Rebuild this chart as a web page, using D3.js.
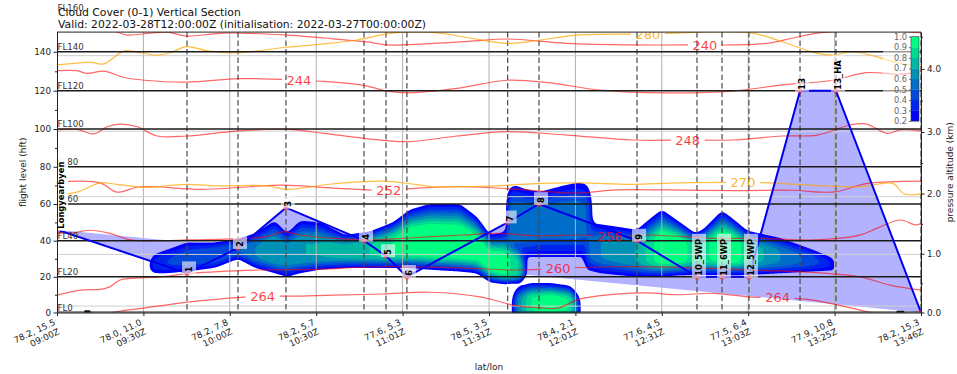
<!DOCTYPE html>
<html><head><meta charset="utf-8">
<script src="https://cdn.jsdelivr.net/npm/d3@7"></script>
<style>body{margin:0;background:#fff;} text{font-family:"DejaVu Sans",sans-serif;}</style>
</head><body><svg id="c" width="957" height="374"></svg>
<script>
// ---------------- DATA ----------------
const titleLines = ["Cloud Cover (0-1) Vertical Section","Valid: 2022-03-28T12:00:00Z (initialisation: 2022-03-27T00:00:00Z)"];
const xTickLatLon = ["78.2, 15.5","78.0, 11.0","78.2, 7.8","78.2, 5.7","77.6, 5.3","78.5, 3.5","78.4, 2.1","77.6, 4.5","77.5, 6.4","77.9, 10.8","78.2, 15.3"];
const xTickTimes = ["09:00Z","09:30Z","10:00Z","10:30Z","11:01Z","11:31Z","12:01Z","12:31Z","13:03Z","13:25Z","13:46Z"];
const flTicks = [0,20,40,60,80,100,120,140];
const flMinorTicks = [10,30,50,70,90,110,130];
const kmTicks = [0,1,2,3,4];
const kmMinorTicks = [0.5,1.5,2.5,3.5,4.5];
const flLevels = [0,20,40,60,80,100,120,140,160];
const flLevelLabels = ["FL0","FL20","FL40","FL60","FL80","FL100","FL120","FL140","FL160"];
const pressureLevels = [1000,900,800,700,600];
const cbLevels = [0.2,0.3,0.4,0.5,0.6,0.7,0.8,0.9,1.0];

const wpNames = ["Longyearbyen","1","2","3","4","5","6","7","8","9","10_5WP","11_6WP","12_5WP","13","13_HA",""];
const wpX  = [0,1.505,2.095,2.65,3.553,3.808,4.05,5.216,5.579,6.713,7.407,7.697,8.009,8.6,9.016,10];
const wpFL = [46,22,36,58,40,31.5,20,50,60,40,20,20,20,120,120,0];

// cloud layers: [along-track x, base FL, core FL, top FL, peak cover]
const cloudMain = [[1.060,25.5,26.5,27.5,0.26],[1.080,23.5,26,29.5,0.3],[1.100,22.5,26,31,0.32],[1.150,22,27,33,0.36],[1.273,22,28,35,0.4],[1.505,23,30,39,0.45],[1.829,25,32,39,0.5],[2.095,30,35,41,0.5],[2.292,25,34,44,0.6],[2.523,22,33,51,0.7],[2.662,20,32,44,0.65],[2.813,22,34,51,0.7],[3.044,24,34,50,0.7],[3.333,25,34,43,0.75],[3.623,25,35,45,0.8],[3.889,25,36,50,0.9],[4.086,25,38,57,1.0],[4.317,24,38,60,1.0],[4.664,23,37,60,1.0],[4.861,22,35,53,0.95],[5.012,17,28,43,0.95],[5.185,16,24,45,0.95],[5.360,17,23,38,0.8],[5.400,19,23,33,0.6],[5.430,21,23,28,0.4]];
const cloudTall = [[5.197,31,50,68,0],[5.215,31,50,68,0.55],[5.300,31,50,70.2,0.6],[5.420,31,50,68,0.6],[5.590,31,52,66.5,0.55],[5.822,31,52,69.5,0.55],[6.030,31,52,71.6,0.55],[6.140,31,50,70.5,0.5],[6.180,35,50,66,0.45],[6.200,40,50,60,0]];
const cloudRight = [[6.088,24,36,50,0],[6.134,24,36,50,0.5],[6.285,22,35,49,0.6],[6.713,20,33,46,0.7],[6.863,20,33,52,0.85],[7.002,20,34,57,1.0],[7.211,21,34,50,1.0],[7.384,21,34,44,0.8],[7.477,21,34,46,0.85],[7.697,21,35,56.5,1.0],[7.847,21,34,51,1.0],[7.986,21,33,45.5,0.8],[8.368,22,31,41.5,0.6],[8.750,23,29,35,0.45],[8.947,23.5,27,31,0.32],[9.020,24,26,28,0.25]];
const cloudLow = [[5.270,-5,3,8,0.3],[5.300,-5,4,12,0.5],[5.324,-5,4,14,0.6],[5.475,-5,4,16.5,0.9],[5.706,-5,4,16.5,1.0],[5.938,-5,4,15,0.9],[6.030,-5,3,10,0.5],[6.060,-5,2,6,0.3]];

// isotherms (red) and higher-value contours (orange): [x, FL]
const iso240 = [[0.5,152],[0.66,150.5],[0.81,148.5],[1.08,149.5],[1.27,150],[1.50,148],[1.93,149.5],[2.66,148.5],[3.09,147],[3.59,145],[3.82,143.5],[4.25,144],[4.83,145.5],[5.21,146.5],[5.90,144.3],[6.67,143.5],[7.50,143.5],[7.82,143.5],[8.22,144.3],[8.52,147],[8.80,149.5],[9.18,150.5],[9.53,151],[10,149.5]];
const iso244 = [[0,130.3],[0.23,130.3],[0.35,128.9],[0.54,130.1],[0.78,126.8],[1.01,125.4],[1.50,124.4],[2.08,126.2],[2.31,126.2],[2.80,125.4],[3.09,124.8],[3.55,122.7],[3.82,119.8],[4.05,118.9],[4.63,121.2],[5.21,125.4],[5.71,124],[6.28,120.3],[7.06,118.9],[7.82,119.8],[8.40,123],[8.98,125.4],[9.37,129.3],[9.76,128.5],[10,130]];
const iso248 = [[0,99.5],[0.23,99.8],[0.43,97.4],[0.58,101.2],[0.73,102.6],[0.93,101.2],[1.16,96.3],[1.50,96.3],[2.08,98.9],[2.66,99.8],[3.09,97.7],[3.55,95.1],[4.05,93.3],[4.63,96.3],[5.21,98.6],[5.90,96.8],[6.67,94.2],[7.30,94.2],[7.82,94.2],[8.40,96.3],[8.80,96.8],[9.18,102.1],[9.37,102.6],[9.61,97.7],[9.76,99.5],[10,99]];
const iso252 = [[0,71.8],[0.5,71.4],[0.69,66.4],[0.96,69.3],[1.66,67.9],[2.23,69.3],[2.62,70.2],[3.2,68.5],[3.59,67.6],[3.84,67.2],[4.17,68.5],[4.70,69.3],[5.30,68.0],[5.67,66.7],[6.05,65.9],[6.43,67.5],[7.06,67.6],[7.86,67.2],[8.5,67.4],[9.0,66.5],[9.37,71],[10,72.3]];
const iso256 = [[0,44],[0.19,44.3],[0.38,45.7],[0.61,44],[0.85,40.4],[1.2,40],[1.5,40.4],[2.2,41.3],[2.43,42.2],[2.62,44.9],[2.81,43.1],[3.2,41.3],[3.59,40.4],[4.12,41.6],[4.70,43.1],[5.09,44],[5.56,42.7],[6.05,43.1],[6.40,42.2],[6.83,43.1],[7.6,41.3],[8.17,41.3],[8.75,40.4],[9.29,43],[9.5,47],[9.76,51.3],[9.94,48.6],[10,49.5]];
const iso260 = [[0,9.8],[0.27,12.6],[0.5,13],[0.61,14.4],[0.73,18.2],[0.85,19.1],[1.2,20],[1.54,21.9],[2.35,23.8],[3.01,24.2],[3.70,25.6],[4.4,25.4],[4.9,24.5],[5.3,23.8],[5.80,24.7],[6.43,25.6],[7.21,25.3],[8.0,23.8],[8.56,22.9],[9.29,20],[9.64,15.4],[10,12.6]];
const iso264 = [[0.55,-2],[0.65,0],[1.0,2.5],[1.54,6],[2.12,8.5],[2.38,9.2],[2.70,9.2],[3.2,9.8],[3.77,10.4],[4.32,11.4],[4.9,8.8],[5.28,4.2],[5.6,2.6],[5.8,2.5],[6.05,7.5],[6.52,10.5],[6.83,11],[7.2,10],[7.6,10.8],[8.0,8.8],[8.34,8.4],[8.75,7],[9.37,0.5],[9.6,-2]];
const iso270 = [[0,64.9],[0.24,66.5],[0.5,71.4],[0.69,70.6],[1.0,69],[1.5,70.6],[1.85,69.8],[2.43,69.8],[2.66,67.9],[3.2,70.9],[3.77,72.3],[4.09,70.9],[4.35,69.3],[4.6,69.3],[5.09,69.8],[5.36,70.6],[6.05,71.4],[6.63,70.6],[7.21,71.4],[7.94,71.6],[8.25,71.4],[8.56,70.6],[9.29,69.3],[9.68,71],[9.8,65.5],[10,65.5]];
const iso280 = [[0,133.3],[0.23,134.2],[0.38,134.7],[0.54,133.8],[0.78,140.5],[0.96,139.5],[1.16,138.3],[1.31,139.5],[1.50,142.6],[1.74,140.5],[2.08,139.5],[2.66,142.3],[3.09,144],[3.47,146],[3.85,149.4],[4.05,150],[4.43,149.5],[4.78,147],[5.21,144.3],[5.59,146],[6.02,148.5],[6.84,149],[8.02,149.7],[8.40,145],[8.80,139.2],[8.98,138.3],[9.21,140],[9.49,137.4],[9.76,134],[10,133.3]];
const redIsotherms = [iso240, iso244, iso248, iso252, iso256, iso260, iso264];
const orangeIsotherms = [iso270, iso280];
// labels: [value, x, FL]
const redLabels = [[240,7.50,143.5],[244,2.80,125.4],[248,7.30,94.2],[252,3.84,67.4],[256,6.40,42.2],[260,5.80,24.7],[264,2.38,9.2],[264,8.34,8.4]];
const orangeLabels = [[280,6.84,148.8],[270,7.94,71.6]];
const terrainX  = [0,0.30,0.32,0.38,0.41,9.70,9.72,9.80,9.83,10];
const terrainFL = [-1,-1,1.2,1.2,-1,-1,1.0,1.0,-1,-1];

// ---------------- LAYOUT / SCALES ----------------
const L = 57, R = 921, T = 32.1, B = 312.5;
const pOfFL = fl => 1013.25 * Math.pow(1 - 2.25577e-5 * fl * 30.48, 5.25588);
const pOfKm = km => 1013.25 * Math.pow(1 - 2.25577e-5 * km * 1000, 5.25588);
const x = d3.scaleLinear().domain([0, 10]).range([L, R]);
const yP = d3.scaleLog().domain([pOfFL(0), pOfFL(150)]).range([B, T]);
const y = fl => yP(pOfFL(fl));
const FONT = '"DejaVu Sans", sans-serif';

const svg = d3.select("#c");
const defs = svg.append("defs");
defs.append("clipPath").attr("id", "pc").append("rect")
  .attr("x", L).attr("y", T).attr("width", R - L).attr("height", B - T);

// mask for inline contour labels
const mask = defs.append("mask").attr("id", "lblmask").attr("maskUnits", "userSpaceOnUse")
  .attr("x", 0).attr("y", 0).attr("width", 957).attr("height", 374);
mask.append("rect").attr("x", 0).attr("y", 0).attr("width", 957).attr("height", 374).attr("fill", "white");
redLabels.concat(orangeLabels).forEach(d => {
  mask.append("rect").attr("x", x(d[1]) - 17).attr("y", y(d[2]) - 6).attr("width", 34).attr("height", 12).attr("fill", "black");
});

const plot = svg.append("g").attr("clip-path", "url(#pc)");

// route fill
const lineXY = d3.line().x(d => x(d[0])).y(d => y(d[1]));
const route = wpX.map((v, i) => [v, wpFL[i]]);
plot.append("path").attr("d", lineXY(route) + "Z").attr("fill", "#0000ff").attr("fill-opacity", 0.3).attr("stroke", "none");

// ---------------- CLOUD FIELD -> filled contours ----------------
const dx = 0.01, fl0 = -6, dfl = 0.5, nx = 1001, ny = 173, K = 1.8;
const layers = [cloudMain, cloudTall, cloudRight, cloudLow];
function interp(rows, xi) {
  if (xi < rows[0][0] || xi > rows[rows.length - 1][0]) return null;
  for (let k = 0; k < rows.length - 1; k++) {
    const a = rows[k], b = rows[k + 1];
    if (xi >= a[0] && xi <= b[0]) {
      const t = (xi - a[0]) / (b[0] - a[0]);
      return a.map((v, j) => v + (b[j] - v) * t);
    }
  }
  return null;
}
let field = new Float64Array(nx * ny);
for (let i = 0; i < nx; i++) {
  const xi = i * dx;
  const profs = layers.map(l => interp(l, xi)).filter(p => p && p[4] > 0.2);
  for (let j = 0; j < ny; j++) {
    const fl = fl0 + j * dfl;
    let v = 0;
    for (const p of profs) {
      const [, base, core, top, peak] = p;
      const d = fl < core ? (core - fl) / Math.max(0.5, core - base) : (fl - core) / Math.max(0.5, top - core);
      const s = Math.max(-1, Math.min(1, (1 - d) * K));
      const vv = 0.2 + (peak - 0.2) * s;
      if (vv > v) v = vv;
    }
    field[j * nx + i] = v;
  }
}
function boxBlur(src, w, h, r) {
  const tmp = new Float64Array(w * h), out = new Float64Array(w * h);
  for (let j = 0; j < h; j++) for (let i = 0; i < w; i++) {
    let s = 0, c = 0;
    for (let k = -r; k <= r; k++) { const ii = Math.min(w - 1, Math.max(0, i + k)); s += src[j * w + ii]; c++; }
    tmp[j * w + i] = s / c;
  }
  for (let j = 0; j < h; j++) for (let i = 0; i < w; i++) {
    let s = 0, c = 0;
    for (let k = -r; k <= r; k++) { const jj = Math.min(h - 1, Math.max(0, j + k)); s += tmp[jj * w + i]; c++; }
    out[j * w + i] = s / c;
  }
  return out;
}
field = boxBlur(boxBlur(field, nx, ny, 3), nx, ny, 3);

const winter = t => d3.rgb(0, Math.round(255 * t), Math.round(255 * (1 - 0.5 * t))).toString();
const bandColors = cbLevels.slice(0, -1).map((_, i) => winter(i / (cbLevels.length - 2)));
const contours = d3.contours().size([nx, ny]).thresholds(cbLevels.slice(0, -1))(Array.from(field));
const toPath = mp => mp.coordinates.map(poly => poly.map(ring =>
  "M" + ring.map(([cx, cy]) => x((cx - 0.5) * dx).toFixed(2) + "," + y(fl0 + (cy - 0.5) * dfl).toFixed(2)).join("L") + "Z").join("")).join("");
plot.append("g").selectAll("path").data(contours).join("path")
  .attr("d", toPath).attr("fill", (d, i) => bandColors[i]).attr("fill-rule", "evenodd").attr("stroke", "none");

// terrain
plot.append("path").datum(terrainX.map((v, i) => [v, terrainFL[i]]))
  .attr("d", d => lineXY(d) + "Z").attr("fill", "#111");

// grid: vertical at ticks, horizontal at pressure levels
plot.append("g").selectAll("line").data(d3.range(0, 11)).join("line")
  .attr("x1", d => x(d)).attr("x2", d => x(d)).attr("y1", T).attr("y2", B)
  .attr("stroke", "#b0b0b0").attr("stroke-width", 1);
plot.append("g").selectAll("line").data(pressureLevels).join("line")
  .attr("x1", L).attr("x2", R).attr("y1", d => yP(d)).attr("y2", d => yP(d))
  .attr("stroke", "#cfcfcf").attr("stroke-width", 1);

// waypoint dashed lines
plot.append("g").selectAll("line").data(wpX).join("line")
  .attr("x1", d => x(d)).attr("x2", d => x(d)).attr("y1", T).attr("y2", B)
  .attr("stroke", "#4a4a4a").attr("stroke-width", 1.2).attr("stroke-dasharray", "5.5,3");

// isotherms
const curve = d3.line().x(d => x(d[0])).y(d => y(d[1])).curve(d3.curveCatmullRom.alpha(0.5));
const isoG = plot.append("g").attr("mask", "url(#lblmask)");
isoG.selectAll("path.r").data(redIsotherms).join("path").attr("class", "r")
  .attr("d", curve).attr("fill", "none").attr("stroke", "#ff0000").attr("stroke-opacity", 0.6).attr("stroke-width", 1.2);
isoG.selectAll("path.o").data(orangeIsotherms).join("path").attr("class", "o")
  .attr("d", curve).attr("fill", "none").attr("stroke", "#ffa500").attr("stroke-opacity", 0.75).attr("stroke-width", 1.2);

// flight level lines
plot.append("g").selectAll("line").data(flLevels).join("line")
  .attr("x1", L).attr("x2", R).attr("y1", d => y(d)).attr("y2", d => y(d))
  .attr("stroke", "#1a1a1a").attr("stroke-width", d => d === 0 ? 2 : 1.5);

// route line + markers
plot.append("path").datum(route).attr("d", lineXY).attr("fill", "none").attr("stroke", "#0000ee").attr("stroke-width", 2);
plot.append("g").selectAll("circle").data(route).join("circle")
  .attr("cx", d => x(d[0])).attr("cy", d => y(d[1])).attr("r", 2.8).attr("fill", "#ff3030").attr("fill-opacity", 0.6);

// isotherm labels
const lblG = plot.append("g").attr("font-family", FONT).attr("font-size", 13).attr("text-anchor", "middle");
lblG.selectAll("text.r").data(redLabels).join("text").attr("class", "r")
  .attr("x", d => x(d[1])).attr("y", d => y(d[2])).attr("dy", "0.36em")
  .attr("fill", "#ff0000").attr("fill-opacity", 0.75).text(d => d[0]);
lblG.selectAll("text.o").data(orangeLabels).join("text").attr("class", "o")
  .attr("x", d => x(d[1])).attr("y", d => y(d[2])).attr("dy", "0.36em")
  .attr("fill", "#ffa500").attr("fill-opacity", 0.85).text(d => d[0]);

// FL labels (not clipped)
svg.append("g").attr("font-family", FONT).attr("font-size", 8.6).attr("fill", "#333")
  .selectAll("text").data(flLevels).join("text")
  .attr("x", L + 0.5).attr("y", d => y(d) - 1.5).text((d, i) => flLevelLabels[i]);

// waypoint labels
const wl = svg.append("g").attr("font-family", FONT).attr("font-size", 8.4).attr("font-weight", "bold");
route.forEach((d, i) => {
  const name = wpNames[i];
  if (!name) return;
  const g = wl.append("g").attr("transform", `translate(${x(d[0]) + (i === 0 ? 4 : 2)},${y(d[1])}) rotate(-90)`);
  const t = g.append("text").attr("x", 1).attr("y", 0).attr("dy", "0.35em").attr("fill", "#000").text(name);
  const w = t.node().getComputedTextLength();
  g.insert("rect", "text").attr("x", -1).attr("y", -7).attr("width", w + 7).attr("height", 14)
    .attr("fill", "white").attr("fill-opacity", i === 0 ? 0.9 : 0.6);
});

// ---------------- AXES ----------------
const styleAxis = g => {
  g.attr("font-family", FONT).attr("font-size", 8.8);
  g.selectAll("text").attr("fill", "#222");
  g.selectAll("line,path").attr("stroke", "#222");
};
svg.append("g").attr("transform", `translate(${L},0)`)
  .call(d3.axisLeft(yP).tickValues(flTicks.map(pOfFL)).tickFormat((d, i) => flTicks[i]).tickSize(3.5).tickSizeOuter(0).tickPadding(2.5))
  .call(styleAxis);
svg.append("g").attr("transform", `translate(${L},0)`)
  .call(d3.axisLeft(yP).tickValues(flMinorTicks.map(pOfFL)).tickFormat("").tickSize(2).tickSizeOuter(0))
  .call(styleAxis);
svg.append("g").attr("transform", `translate(${R},0)`)
  .call(d3.axisRight(yP).tickValues(kmTicks.map(pOfKm)).tickFormat((d, i) => kmTicks[i].toFixed(1)).tickSize(3.5).tickSizeOuter(0).tickPadding(2.5))
  .call(styleAxis);
svg.append("g").attr("transform", `translate(${R},0)`)
  .call(d3.axisRight(yP).tickValues(kmMinorTicks.map(pOfKm)).tickFormat("").tickSize(2).tickSizeOuter(0))
  .call(styleAxis);
svg.append("g").attr("transform", `translate(0,${B})`)
  .call(d3.axisBottom(x).tickValues(d3.range(0, 11)).tickFormat("").tickSize(3.5).tickSizeOuter(0))
  .call(styleAxis);
svg.append("line").attr("x1", L).attr("x2", R).attr("y1", T).attr("y2", T).attr("stroke", "#222");

// x tick labels (two lines, rotated)
const xl = svg.append("g").attr("font-family", FONT).attr("font-size", 8.8).attr("fill", "#222");
d3.range(0, 11).forEach(i => {
  const t = xl.append("text").attr("text-anchor", "end")
    .attr("transform", `translate(${x(i) - 1},${B + 12}) rotate(-25)`);
  t.append("tspan").attr("x", 0).attr("dy", 0).text(xTickLatLon[i]);
  t.append("tspan").attr("x", 0).attr("dy", "1.15em").text(xTickTimes[i]);
});

// axis titles
svg.append("text").attr("font-family", FONT).attr("font-size", 9).attr("fill", "#222")
  .attr("text-anchor", "middle").attr("x", (L + R) / 2).attr("y", 370).text("lat/lon");
svg.append("text").attr("font-family", FONT).attr("font-size", 9).attr("fill", "#222")
  .attr("text-anchor", "middle").attr("transform", `translate(23,${(T + B) / 2}) rotate(-90)`).attr("dy", "0.35em").text("flight level (hft)");
svg.append("text").attr("font-family", FONT).attr("font-size", 9).attr("fill", "#222")
  .attr("text-anchor", "middle").attr("transform", `translate(950,${(T + B) / 2}) rotate(-90)`).attr("dy", "0.35em").text("pressure altitude (km)");

// title
svg.append("g").attr("font-family", FONT).attr("font-size", 10.8).attr("fill", "#111")
  .selectAll("text").data(titleLines).join("text").attr("x", L + 1).attr("y", (d, i) => 16 + i * 12).text(d => d);

// ---------------- COLORBAR ----------------
const cbX = 911, cbW = 8, cbTop = 36.7, cbBot = 121;
svg.append("rect").attr("x", 883).attr("y", 33).attr("width", R - 883 - 1).attr("height", 92).attr("fill", "white").attr("fill-opacity", 0.55);
const cb = d3.scaleLinear().domain([cbLevels[0], cbLevels[cbLevels.length - 1]]).range([cbBot, cbTop]);
svg.append("g").selectAll("rect").data(bandColors).join("rect")
  .attr("x", cbX).attr("width", cbW)
  .attr("y", (d, i) => cb(cbLevels[i + 1])).attr("height", (d, i) => cb(cbLevels[i]) - cb(cbLevels[i + 1]) + 0.3)
  .attr("fill", d => d);
svg.append("rect").attr("x", cbX).attr("y", cbTop).attr("width", cbW).attr("height", cbBot - cbTop).attr("fill", "none").attr("stroke", "#333").attr("stroke-width", 0.6);
svg.append("g").attr("transform", `translate(${cbX},0)`)
  .call(d3.axisLeft(cb).tickValues(cbLevels).tickFormat(d3.format(".1f")).tickSize(2).tickSizeOuter(0).tickPadding(2))
  .call(g => { g.select(".domain").remove(); g.attr("font-family", FONT).attr("font-size", 8.2);
    g.selectAll("text").attr("fill", "#666"); g.selectAll("line").attr("stroke", "#666"); });
</script></body></html>
